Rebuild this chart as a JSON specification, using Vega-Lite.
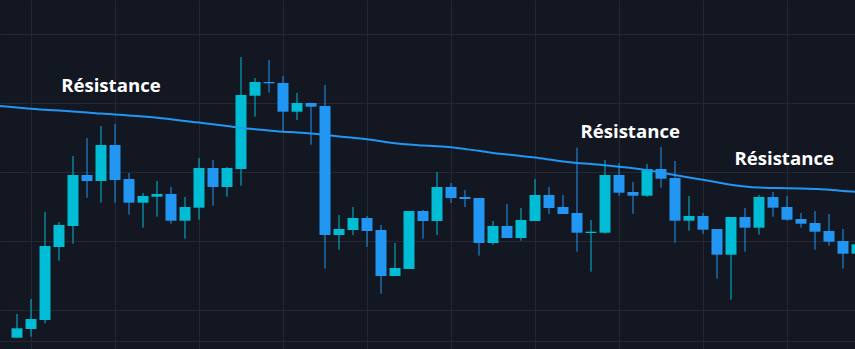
{
  "$schema": "https://vega.github.io/schema/vega-lite/v6.json",
  "width": 855,
  "height": 349,
  "padding": 0,
  "autosize": {"type": "none"},
  "background": "#131722",
  "config": {
    "view": {"stroke": null},
    "axis": {"gridColor": "#242833", "gridWidth": 1, "labels": false, "ticks": false, "domain": false, "title": null}
  },
  "datasets": {
    "candles": [
      {"i": 0, "open": 11.3, "close": 20.7, "high": 35.0, "low": 11.3},
      {"i": 1, "open": 20.0, "close": 30.0, "high": 50.0, "low": 12.3},
      {"i": 2, "open": 29.0, "close": 103.0, "high": 137.0, "low": 25.7},
      {"i": 3, "open": 102.0, "close": 124.0, "high": 127.0, "low": 88.3},
      {"i": 4, "open": 123.0, "close": 174.0, "high": 193.0, "low": 105.3},
      {"i": 5, "open": 174.0, "close": 168.0, "high": 211.0, "low": 151.3},
      {"i": 6, "open": 168.0, "close": 204.0, "high": 223.0, "low": 146.3},
      {"i": 7, "open": 204.0, "close": 169.0, "high": 225.0, "low": 146.3},
      {"i": 8, "open": 170.0, "close": 146.3, "high": 176.0, "low": 134.3},
      {"i": 9, "open": 146.3, "close": 153.0, "high": 156.0, "low": 121.3},
      {"i": 10, "open": 152.3, "close": 155.0, "high": 168.0, "low": 132.3},
      {"i": 11, "open": 155.0, "close": 128.3, "high": 162.0, "low": 125.3},
      {"i": 12, "open": 128.3, "close": 142.0, "high": 152.0, "low": 110.3},
      {"i": 13, "open": 141.3, "close": 181.0, "high": 191.0, "low": 129.3},
      {"i": 14, "open": 181.0, "close": 162.0, "high": 189.0, "low": 143.3},
      {"i": 15, "open": 162.0, "close": 181.0, "high": 182.0, "low": 152.3},
      {"i": 16, "open": 180.0, "close": 254.0, "high": 292.0, "low": 163.3},
      {"i": 17, "open": 253.3, "close": 267.0, "high": 271.0, "low": 232.3},
      {"i": 18, "open": 267.0, "close": 265.7, "high": 289.0, "low": 256.3},
      {"i": 19, "open": 266.0, "close": 237.3, "high": 273.0, "low": 217.3},
      {"i": 20, "open": 237.3, "close": 246.0, "high": 256.0, "low": 229.0},
      {"i": 21, "open": 246.0, "close": 242.3, "high": 246.0, "low": 204.3},
      {"i": 22, "open": 243.0, "close": 114.0, "high": 264.0, "low": 80.3},
      {"i": 23, "open": 114.0, "close": 120.0, "high": 134.0, "low": 99.3},
      {"i": 24, "open": 119.0, "close": 131.0, "high": 142.0, "low": 114.0},
      {"i": 25, "open": 131.0, "close": 118.0, "high": 133.0, "low": 102.3},
      {"i": 26, "open": 119.0, "close": 73.0, "high": 124.0, "low": 55.3},
      {"i": 27, "open": 73.0, "close": 81.0, "high": 106.0, "low": 73.0},
      {"i": 28, "open": 80.0, "close": 138.0, "high": 138.0, "low": 80.0},
      {"i": 29, "open": 138.0, "close": 128.0, "high": 139.0, "low": 110.3},
      {"i": 30, "open": 128.0, "close": 162.0, "high": 177.0, "low": 114.0},
      {"i": 31, "open": 162.0, "close": 151.0, "high": 166.0, "low": 146.0},
      {"i": 32, "open": 152.0, "close": 150.0, "high": 159.0, "low": 142.0},
      {"i": 33, "open": 151.0, "close": 106.0, "high": 151.0, "low": 93.3},
      {"i": 34, "open": 106.0, "close": 123.0, "high": 128.0, "low": 104.3},
      {"i": 35, "open": 123.0, "close": 111.0, "high": 145.0, "low": 111.0},
      {"i": 36, "open": 111.0, "close": 129.0, "high": 141.0, "low": 108.3},
      {"i": 37, "open": 128.0, "close": 154.0, "high": 170.0, "low": 128.0},
      {"i": 38, "open": 154.0, "close": 141.0, "high": 162.0, "low": 135.0},
      {"i": 39, "open": 142.0, "close": 135.0, "high": 154.0, "low": 135.0},
      {"i": 40, "open": 136.0, "close": 116.3, "high": 201.3, "low": 97.3},
      {"i": 41, "open": 116.0, "close": 117.3, "high": 129.0, "low": 77.3},
      {"i": 42, "open": 116.3, "close": 174.0, "high": 189.0, "low": 115.3},
      {"i": 43, "open": 174.0, "close": 156.3, "high": 186.0, "low": 153.3},
      {"i": 44, "open": 157.0, "close": 153.3, "high": 167.0, "low": 135.3},
      {"i": 45, "open": 153.3, "close": 180.0, "high": 185.0, "low": 152.3},
      {"i": 46, "open": 180.0, "close": 170.3, "high": 202.0, "low": 161.3},
      {"i": 47, "open": 171.0, "close": 128.3, "high": 188.0, "low": 106.3},
      {"i": 48, "open": 128.3, "close": 133.0, "high": 153.0, "low": 118.3},
      {"i": 49, "open": 133.0, "close": 119.3, "high": 136.0, "low": 115.3},
      {"i": 50, "open": 120.0, "close": 94.3, "high": 120.0, "low": 70.3},
      {"i": 51, "open": 94.3, "close": 132.0, "high": 132.0, "low": 49.3},
      {"i": 52, "open": 132.0, "close": 121.3, "high": 141.0, "low": 97.3},
      {"i": 53, "open": 121.3, "close": 152.0, "high": 154.0, "low": 114.3},
      {"i": 54, "open": 152.0, "close": 141.3, "high": 157.0, "low": 132.3},
      {"i": 55, "open": 142.0, "close": 129.3, "high": 153.0, "low": 128.3},
      {"i": 56, "open": 130.0, "close": 125.3, "high": 136.0, "low": 121.3},
      {"i": 57, "open": 126.0, "close": 117.3, "high": 138.0, "low": 99.3},
      {"i": 58, "open": 118.0, "close": 107.3, "high": 135.0, "low": 103.3},
      {"i": 59, "open": 108.0, "close": 95.3, "high": 120.0, "low": 80.3},
      {"i": 60, "open": 95.3, "close": 104.7, "high": 110.0, "low": 90.0}
    ],
    "ma": [
      {"i": -1.3, "ma": 243.0}, {"i": 0, "ma": 241.5}, {"i": 1, "ma": 240.2}, {"i": 2, "ma": 239.3},
      {"i": 3, "ma": 238.4}, {"i": 4, "ma": 237.6}, {"i": 5, "ma": 236.6}, {"i": 6, "ma": 235.4},
      {"i": 7, "ma": 234.6}, {"i": 8, "ma": 233.6}, {"i": 9, "ma": 232.6}, {"i": 10, "ma": 231.2},
      {"i": 11, "ma": 229.8}, {"i": 12, "ma": 228.0}, {"i": 13, "ma": 226.4}, {"i": 14, "ma": 224.8},
      {"i": 15, "ma": 223.0}, {"i": 16, "ma": 221.0}, {"i": 17, "ma": 219.8}, {"i": 18, "ma": 218.6},
      {"i": 19, "ma": 217.3}, {"i": 20, "ma": 216.6}, {"i": 21, "ma": 215.6}, {"i": 22, "ma": 214.0},
      {"i": 23, "ma": 212.6}, {"i": 24, "ma": 211.2}, {"i": 25, "ma": 209.8}, {"i": 26, "ma": 207.8},
      {"i": 27, "ma": 205.8}, {"i": 28, "ma": 204.4}, {"i": 29, "ma": 203.6}, {"i": 30, "ma": 202.8},
      {"i": 31, "ma": 201.7}, {"i": 32, "ma": 200.0}, {"i": 33, "ma": 198.2}, {"i": 34, "ma": 196.0},
      {"i": 35, "ma": 194.5}, {"i": 36, "ma": 193.0}, {"i": 37, "ma": 191.4}, {"i": 38, "ma": 189.5},
      {"i": 39, "ma": 187.5}, {"i": 40, "ma": 186.0}, {"i": 41, "ma": 185.0}, {"i": 42, "ma": 183.7},
      {"i": 43, "ma": 182.2}, {"i": 44, "ma": 180.8}, {"i": 45, "ma": 179.0}, {"i": 46, "ma": 176.5},
      {"i": 47, "ma": 174.0}, {"i": 48, "ma": 171.5}, {"i": 49, "ma": 169.2}, {"i": 50, "ma": 166.8},
      {"i": 51, "ma": 164.3}, {"i": 52, "ma": 162.5}, {"i": 53, "ma": 161.4}, {"i": 54, "ma": 161.0},
      {"i": 55, "ma": 160.8}, {"i": 56, "ma": 160.5}, {"i": 57, "ma": 160.0}, {"i": 58, "ma": 159.3},
      {"i": 59, "ma": 158.0}, {"i": 60, "ma": 157.2}
    ],
    "labels": [
      {"i": 6.71, "y": 263.0, "text": "Résistance"},
      {"i": 43.8, "y": 217.0, "text": "Résistance"},
      {"i": 54.8, "y": 190.3, "text": "Résistance"}
    ]
  },
  "data": {"name": "candles"},
  "encoding": {
    "x": {
      "field": "i", "type": "quantitative",
      "scale": {"domain": [-1.2143, 59.8571], "nice": false, "zero": false, "padding": 0},
      "axis": {"values": [1, 7, 13, 19, 25, 31, 37, 43, 49, 55], "grid": true}
    }
  },
  "layer": [
    {
      "mark": {"type": "rule", "strokeWidth": 1, "clip": true},
      "encoding": {
        "y": {
          "field": "low", "type": "quantitative",
          "scale": {"domain": [0, 349], "nice": false, "zero": false, "padding": 0},
          "axis": {"values": [8, 11, 39, 73, 108, 142, 177, 212, 246, 281, 315], "grid": true}
        },
        "y2": {"field": "high"},
        "color": {"condition": {"test": "datum.close >= datum.open", "value": "#00bcd4"}, "value": "#2196f3"}
      }
    },
    {
      "mark": {"type": "bar", "width": 11, "clip": true},
      "encoding": {
        "y": {"field": "open", "type": "quantitative"},
        "y2": {"field": "close"},
        "color": {"condition": {"test": "datum.close >= datum.open", "value": "#00bcd4"}, "value": "#2196f3"}
      }
    },
    {
      "data": {"name": "ma"},
      "mark": {"type": "line", "color": "#2196f3", "strokeWidth": 2, "interpolate": "monotone", "clip": true},
      "encoding": {
        "y": {"field": "ma", "type": "quantitative"}
      }
    },
    {
      "data": {"name": "labels"},
      "mark": {"type": "text", "font": "Open Sans", "fontWeight": "bold", "fontSize": 18.6, "color": "#ffffff", "align": "center", "baseline": "middle"},
      "encoding": {
        "y": {"field": "y", "type": "quantitative"},
        "text": {"field": "text"}
      }
    }
  ]
}
